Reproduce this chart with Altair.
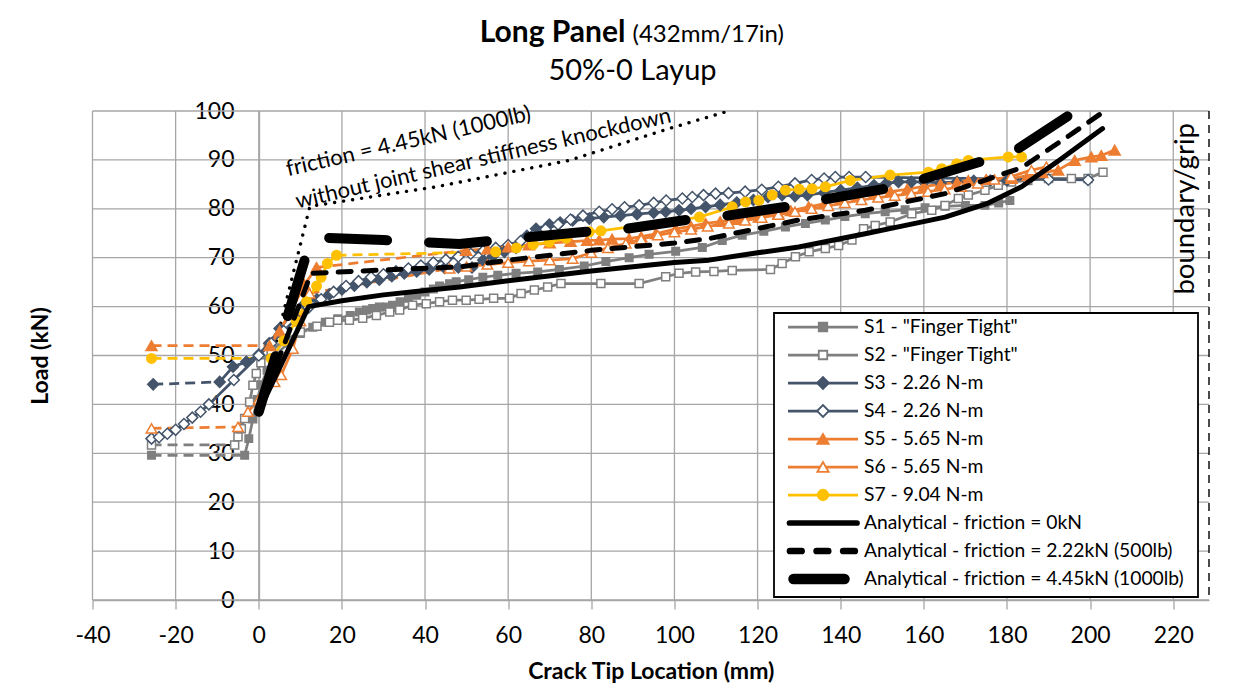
import altair as alt
import pandas as pd

FONT = "Lato"
GRID = "#A6A6A6"

# ---------------- text ----------------
TITLE_MAIN = "Long Panel"
TITLE_DIM = "(432mm/17in)"
TITLE_SUB = "50%-0 Layup"
X_TITLE = "Crack Tip Location (mm)"
Y_TITLE = "Load (kN)"

# ---------------- axes ----------------
X_TICKS = [-40, -20, 0, 20, 40, 60, 80, 100, 120, 140, 160, 180, 200, 220]
Y_TICKS = [0, 10, 20, 30, 40, 50, 60, 70, 80, 90, 100]
X_DOMAIN = [-40, 228.6]
Y_DOMAIN = [0, 100]

# ---------------- series names / colours ----------------
SERIES_NAMES = ['S1 - "Finger Tight"', 'S2 - "Finger Tight"', 'S3 - 2.26 N-m', 'S4 - 2.26 N-m',
                'S5 - 5.65 N-m', 'S6 - 5.65 N-m', 'S7 - 9.04 N-m']
ANALYTICAL_NAMES = ['Analytical - friction = 0kN', 'Analytical - friction = 2.22kN (500lb)',
                    'Analytical - friction = 4.45kN (1000lb)']
SERIES_COLORS = ['#7F7F7F', '#7F7F7F', '#44546A', '#44546A', '#ED7D31', '#ED7D31', '#FFC000']
ANALYTICAL_COLORS = ['#000000', '#000000', '#000000']

# ---------------- experimental data (x in mm, load in kN) ----------------
S1_X = [-25.8, -3.4, -2.4, -1.4, -0.4, 0.6, 2, 4, 7, 10, 13, 16, 19, 22, 24.2, 25.9, 27.4, 29, 30.7, 32.2,
        34, 36, 38, 40, 42, 43.5, 45.9, 47.5, 50.5, 53.9, 57.5, 61.9, 67.1, 72.3, 78.3, 83.5, 89.1, 93.9,
        100.3, 106.7, 111.5, 116.3, 121.5, 126.7, 131.5, 136.3, 141, 145.9, 150.7, 155.5, 160.3, 165.1,
        170, 174.7, 178, 180.7]
S1_Y = [29.6, 29.6, 33, 37, 41, 44, 47, 50, 52.5, 54.5, 55.8, 56.8, 57.5, 58.2, 58.9, 59.3, 59.6, 59.9, 59.9,
        60.3, 61, 61.7, 62.3, 63, 63.6, 64.2, 64.7, 65.1, 65.5, 66, 66.4, 66.8, 67.1, 67.6, 68.3, 69.2, 70,
        70.7, 71.3, 72.1, 73.5, 74.6, 75.4, 76.3, 77, 77.7, 78.4, 79, 79.4, 79.8, 80.2, 80.5, 80.7, 80.7,
        81.2, 81.7]
S1_DASHED = [0]

S2_X = [-25.8, -5.8, -5, -4.2, -3.4, -2.2, -1.4, -0.6, 0.5, 3, 6, 10, 14, 17, 19, 21.8, 25, 28.3, 31.5,
        33.9, 37, 40.3, 43.5, 46.6, 49.9, 53, 56.5, 60.3, 63.1, 66.3, 69.5, 72.7, 82.3, 91.5, 97.9, 101.1,
        105.1, 109.5, 113.9, 123.1, 125.9, 129.1, 132.4, 136.3, 139.5, 142.7, 145.5, 148.3, 151.9, 157.1,
        161.9, 165.1, 168.3, 170.7, 174.7, 177.9, 181.1, 185, 190, 195.5, 199.5, 203.1]
S2_Y = [31.7, 31.7, 33.4, 35, 37.1, 40.5, 43.9, 46.3, 48.5, 51, 53, 54.8, 56, 56.8, 57.2, 57.2, 57.6, 58.2,
        58.9, 59.3, 60.3, 60.6, 61, 61.3, 61.3, 61.5, 61.7, 61.7, 62.7, 63.4, 64, 64.7, 64.7, 64.7, 66.1,
        66.8, 67.1, 67.2, 67.4, 67.6, 68.8, 70.2, 71.2, 71.9, 72.5, 73.6, 75.9, 76.6, 77.3, 79, 79.7, 80.7,
        82.1, 82.8, 83.8, 84.8, 85.5, 85.8, 86.2, 86.2, 86.2, 87.5]
S2_DASHED = [0]

S3_X = [-25.4, -9.4, -6.2, -3, 0, 2.5, 5, 8, 11, 14, 17, 20, 23, 26, 29, 32, 35, 38, 41, 44.7, 48, 51.3,
        54, 56.3, 59.1, 61.9, 64.5, 66.7, 69.9, 72.5, 75.5, 79.5, 83, 87, 91, 95, 97.9, 101.1, 104, 107.5,
        111, 115, 119, 122.5, 125.9, 129, 132, 136, 140, 144, 148, 151, 153.9, 157, 160, 164, 168, 172,
        176, 180]
S3_Y = [44.1, 44.6, 47.7, 48.7, 50.2, 52.5, 55.5, 58.5, 60.5, 61.5, 62.5, 63.5, 64.3, 65, 65.5, 66.2, 66.8,
        67.2, 67.6, 67.9, 68, 68, 69.5, 70.3, 71.2, 72, 74.5, 75.9, 76.8, 77.2, 77.6, 78, 78.3, 78.6, 78.9,
        79.2, 79.4, 79.7, 80, 80.4, 80.8, 81.3, 81.8, 82.4, 82.8, 82.6, 82.8, 83.3, 83.8, 84.3, 84.8, 85.2,
        85.5, 85.5, 85.5, 85.3, 85.5, 85.7, 85.8, 85.8]
S3_DASHED = [0]

S4_X = [-25.8, -24, -22, -20, -18, -16, -14, -12, -6, 0, 3, 6, 9, 12, 15, 18, 21, 24, 27, 30, 33, 36, 39,
        42, 45, 48, 51, 54, 57, 60, 63, 66, 69, 72, 75, 78, 81.9, 85, 88, 91.5, 95, 98, 101.9, 104.3, 107,
        109.9, 113, 117, 121, 125, 129, 133, 136, 138.7, 142, 146, 190, 199.5]
S4_Y = [33, 33.3, 34, 34.8, 36, 37.3, 38.5, 40, 45, 50, 52.5, 55, 57.5, 59.8, 61.5, 63, 64.2, 65.2, 66,
        66.6, 67.2, 67.8, 68.4, 69, 69.6, 70.2, 70.8, 71.4, 72, 72.6, 73.4, 74.5, 75.8, 76.8, 77.8, 78.6,
        79.4, 79.9, 80.3, 80.7, 81.2, 81.7, 82.1, 82.4, 82.8, 83.1, 83.2, 83.5, 83.9, 84.5, 85.2, 85.9,
        86.2, 86.5, 86.5, 86.5, 86, 85.9]
S4_DASHED = []

S5_X = [-25.8, 2.6, 5, 8, 11, 13.9, 49.9, 55, 60, 65, 70, 75, 79, 81.9, 85, 89.1, 92, 95.5, 100.3, 104,
        107.5, 111, 115, 120.3, 125, 128, 132.3, 136, 140, 144, 148, 152, 156, 160, 164, 168, 170.7, 175,
        181.1, 185, 188.5, 192.3, 196.3, 200.3, 202.7, 205.9]
S5_Y = [52, 52, 55, 59.5, 64.5, 68, 71.5, 71.8, 72.2, 72.6, 73, 73.3, 73.5, 73.6, 73.8, 73.9, 74.3, 74.9,
        75.9, 76.4, 77, 77.4, 77.8, 78.3, 79, 79.6, 80.4, 81, 81.8, 82.4, 83, 83.5, 84, 84.6, 85, 85.4,
        85.8, 86, 86.2, 86.8, 87.4, 87.9, 89.9, 90.6, 90.9, 92]
S5_DASHED = [0, 5]

S6_X = [-25.8, -5, -2.6, 0, 3.8, 5.4, 8.2, 10, 12.2, 45.9, 50, 55, 60, 65, 70, 75.5, 80, 84, 88.3, 92, 96,
        100, 104, 108, 113.1, 117, 121, 125, 129, 133, 137, 141, 145, 149, 153, 157, 161, 165, 169, 173,
        177, 181, 185.9, 189.5]
S6_Y = [35.1, 35.4, 38.5, 41, 44.6, 46, 51.4, 57, 62.7, 67.8, 68.2, 68.6, 69, 69.3, 69.5, 69.8, 71, 72,
        72.9, 73.8, 74.6, 75.2, 75.8, 76.4, 77, 77.6, 78.2, 78.8, 79.4, 80, 80.6, 81.2, 81.8, 82.3, 82.7,
        83.1, 83.5, 84, 84.5, 85.2, 86, 86.6, 87.9, 88.6]
S6_DASHED = [0, 8]

S7_X = [-25.8, 3, 6, 9, 11.5, 13.9, 15, 16.5, 18.7, 57, 62, 66, 69.9, 74, 79.5, 82.3, 106, 113.9, 117.1,
        120.3, 123.5, 126.7, 130, 133.1, 136.3, 142.3, 151.9, 161.1, 164.3, 167.9, 170.7, 180.3, 183.5]
S7_Y = [49.4, 49.4, 53, 57, 61, 64.2, 66, 68.8, 70.5, 71.2, 72, 72.7, 73.2, 74, 75.3, 75.5, 78.3, 80.4,
        81.4, 81.7, 82.8, 83.8, 84, 84.1, 84.5, 85.8, 86.9, 87.5, 88.2, 89.2, 89.9, 90.6, 90.6]
S7_DASHED = [0, 8]

# ---------------- analytical curves ----------------
A0_X = [0, 12, 20, 30, 40, 48.3, 60, 80, 100, 108.3, 120, 129.9, 145.9, 155, 165.1, 175, 183.5, 193, 203]
A0_Y = [38.5, 60, 61.2, 62.4, 63.3, 64, 65.3, 67.3, 69, 69.5, 71, 72.2, 74.9, 76.5, 78.3, 81, 84.5, 90.2, 96.4]
A1_X = [0, 12.6, 30, 48.3, 60, 80, 100, 108.3, 129.9, 145.9, 165.1, 183.5, 195, 204]
A1_Y = [38.5, 66.8, 67.5, 68.1, 69.5, 71.5, 73, 73.9, 77.7, 79.7, 83.1, 88.4, 95, 100.3]
A2_X = [0, 12.7, 30, 48.3, 53, 61, 78.7, 85.9, 102.7, 110.3, 126.7, 134.7, 150.7, 158.7, 174.7, 182.7, 196.5]
A2_Y = [38.5, 74.2, 73.6, 72.8, 73.2, 73.9, 75.3, 75.6, 77.7, 78.3, 80.4, 81.7, 84.1, 85.8, 89.9, 92.3, 100]
DOT_X = [0, 12.3, 42.7, 74.7, 98.7, 113]
DOT_Y = [38.5, 80.5, 84.5, 89.9, 96.4, 100]

# ---------------- annotations ----------------
NOTE_TEXT = ["friction = 4.45kN (1000lb)", "without joint shear stiffness knockdown"]
NOTE_X = [36.0, 54.0]
NOTE_Y = [93.8, 90.3]
BOUNDARY_X = [228.6]
BOUNDARY_TEXT = ["boundary/grip"]
BOUNDARY_TEXT_X = [223.0]
BOUNDARY_TEXT_Y = [80.0]

# =====================================================================
ALL_NAMES = SERIES_NAMES + ANALYTICAL_NAMES
ALL_COLORS = SERIES_COLORS + ANALYTICAL_COLORS

EXP = [
    (SERIES_NAMES[0], S1_X, S1_Y, S1_DASHED),
    (SERIES_NAMES[1], S2_X, S2_Y, S2_DASHED),
    (SERIES_NAMES[2], S3_X, S3_Y, S3_DASHED),
    (SERIES_NAMES[3], S4_X, S4_Y, S4_DASHED),
    (SERIES_NAMES[4], S5_X, S5_Y, S5_DASHED),
    (SERIES_NAMES[5], S6_X, S6_Y, S6_DASHED),
    (SERIES_NAMES[6], S7_X, S7_Y, S7_DASHED),
]

line_rows = []
for name, xs, ys, dashed in EXP:
    assert len(xs) == len(ys), name
    prev = None
    piece = -1
    order = 0
    for i in range(len(xs) - 1):
        style = "dash" if i in dashed else "solid"
        if style != prev:
            piece += 1
            order = 0
            line_rows.append({"series": name, "piece": f"{name}|{piece}", "order": order,
                              "x": xs[i], "y": ys[i], "style": style})
            prev = style
        order += 1
        line_rows.append({"series": name, "piece": f"{name}|{piece}", "order": order,
                          "x": xs[i + 1], "y": ys[i + 1], "style": style})
lines_df = pd.DataFrame(line_rows)

xsc = alt.Scale(domain=X_DOMAIN, nice=False, zero=False)
ysc = alt.Scale(domain=Y_DOMAIN, nice=False, zero=False)
color_scale = alt.Scale(domain=ALL_NAMES, range=ALL_COLORS)

x_axis = alt.Axis(values=X_TICKS, grid=False, domainColor=GRID, domainWidth=1.3, tickColor=GRID,
                  tickWidth=1.3, tickSize=9, labelFont=FONT, labelFontSize=23, labelColor="black",
                  labelPadding=15, labelFlush=False, labelOverlap=False, labelExpr="'' + datum.value",
                  title=X_TITLE, titleFont=FONT, titleFontSize=23, titleFontWeight="bold",
                  titleColor="black", titlePadding=13)
y_axis = alt.Axis(values=Y_TICKS, grid=False, offset=-166.5, domainColor=GRID, domainWidth=1.3,
                  ticks=False, labelFont=FONT, labelFontSize=23, labelColor="black", labelPadding=25,
                  labelFlush=False, labelOverlap=False, labelExpr="'' + datum.value", title=Y_TITLE,
                  titleFont=FONT, titleFontSize=23, titleFontWeight="bold", titleColor="black",
                  titleX=-219, titleY=244.5, titleAngle=270, titleAlign="center", titleBaseline="middle")


def X(field="x"):
    return alt.X(f"{field}:Q", scale=xsc, axis=x_axis)


def Y(field="y"):
    return alt.Y(f"{field}:Q", scale=ysc, axis=y_axis)


# gridlines (drawn from the tick arrays)
grid_x = alt.Chart(pd.DataFrame({"x": X_TICKS})).mark_rule(color=GRID, strokeWidth=1.3).encode(x=X("x"))
grid_y = alt.Chart(pd.DataFrame({"y": Y_TICKS})).mark_rule(color=GRID, strokeWidth=1.3).encode(y=Y("y"))

boundary = alt.Chart(pd.DataFrame({"x": BOUNDARY_X})).mark_rule(
    color="black", strokeWidth=1.4, strokeDash=[8, 6]).encode(x=X("x"))
boundary_text = alt.Chart(pd.DataFrame({"t": BOUNDARY_TEXT, "x": BOUNDARY_TEXT_X, "y": BOUNDARY_TEXT_Y})
                          ).mark_text(font=FONT, fontSize=27.5, angle=270, align="center", baseline="middle",
                                      color="black").encode(x=X("x"), y=Y("y"), text="t:N")
notes = alt.Chart(pd.DataFrame({"t": NOTE_TEXT, "x": NOTE_X, "y": NOTE_Y})).mark_text(
    font=FONT, fontSize=22, angle=347, align="center", baseline="middle", color="black").encode(
    x=X("x"), y=Y("y"), text="t:N")

dotted = alt.Chart(pd.DataFrame({"x": DOT_X, "y": DOT_Y})).mark_line(
    color="black", strokeWidth=3.4, strokeDash=[0.1, 9], strokeCap="round", clip=True).encode(
    x=X(), y=Y())

solid_lines = alt.Chart(lines_df).transform_filter(alt.datum.style == "solid").mark_line(
    strokeWidth=2.75, strokeJoin="round").encode(
    x=X(), y=Y(), color=alt.Color("series:N", scale=color_scale, legend=None),
    detail="piece:N", order="order:Q")
dashed_lines = alt.Chart(lines_df).transform_filter(alt.datum.style == "dash").mark_line(
    strokeWidth=2.75, strokeDash=[10, 6]).encode(
    x=X(), y=Y(), color=alt.Color("series:N", scale=color_scale, legend=None),
    detail="piece:N", order="order:Q")

# marker style per experimental series: (shape, filled, plot size, legend size)
MARKERS = [("square", True, 56, 72), ("square", False, 64, 72), ("diamond", True, 121, 140),
           ("diamond", False, 121, 140), ("triangle-up", True, 121, 130), ("triangle-up", False, 110, 130),
           ("circle", True, 90, 110)]
point_layers = []
for (name, xs, ys, _), col, (shape, filled, size, _ls) in zip(EXP, SERIES_COLORS, MARKERS):
    point_layers.append(
        alt.Chart(pd.DataFrame({"x": xs, "y": ys})).mark_point(
            shape=shape, size=size, filled=True, fill=col if filled else "#FFFFFF", stroke=col,
            strokeWidth=1.5, opacity=1).encode(x=X(), y=Y()))

a0 = alt.Chart(pd.DataFrame({"x": A0_X, "y": A0_Y})).mark_line(
    color="black", strokeWidth=5, strokeCap="round", strokeJoin="round", clip=True).encode(x=X(), y=Y())
a1 = alt.Chart(pd.DataFrame({"x": A1_X, "y": A1_Y})).mark_line(
    color="black", strokeWidth=5, strokeDash=[13, 12], strokeCap="round", strokeJoin="round",
    clip=True).encode(x=X(), y=Y())
a2 = alt.Chart(pd.DataFrame({"x": A2_X, "y": A2_Y})).mark_line(
    color="black", strokeWidth=10, strokeDash=[58, 42], strokeCap="round", strokeJoin="round",
    clip=True).encode(x=X(), y=Y())

# ---------------- legend (built from the series names) ----------------
LEG_LEFT, LEG_RIGHT, LEG_TOP, LEG_BOTTOM = 681.5, 1105.5, 202, 486
ROW0, ROW_STEP = 216, 28
legend_df = pd.DataFrame({"name": ALL_NAMES, "row": list(range(len(ALL_NAMES)))})
ly = alt.Y("ly:Q", scale=None)


def leg(rows):
    return alt.Chart(legend_df).transform_filter(
        alt.FieldOneOfPredicate(field="row", oneOf=rows)).transform_calculate(
        ly=f"{ROW0} + {ROW_STEP} * datum.row")


leg_box = alt.Chart(pd.DataFrame({"a": [0]})).mark_rect(
    fill="white", stroke="black", strokeWidth=1.8).encode(
    x=alt.value(LEG_LEFT), x2=alt.value(LEG_RIGHT), y=alt.value(LEG_TOP), y2=alt.value(LEG_BOTTOM))
leg_lines = leg(list(range(7))).mark_rule(strokeWidth=2.75).encode(
    x=alt.value(695.5), x2=alt.value(765.5), y=ly,
    color=alt.Color("name:N", scale=color_scale, legend=None))
leg_marks = []
for i, (col, (shape, filled, _s, lsize)) in enumerate(zip(SERIES_COLORS, MARKERS)):
    leg_marks.append(leg([i]).mark_point(
        shape=shape, size=lsize, filled=True, fill=col if filled else "#FFFFFF", stroke=col,
        strokeWidth=1.8, opacity=1).encode(x=alt.value(730.5), y=ly))
leg_a0 = leg([7]).mark_rule(color="black", strokeWidth=5.7, strokeCap="round").encode(
    x=alt.value(697), x2=alt.value(764.5), y=ly)
leg_a1 = leg([8]).mark_rule(color="black", strokeWidth=6.7, strokeCap="round", strokeDash=[11.6, 15]).encode(
    x=alt.value(697.5), x2=alt.value(764), y=ly)
leg_a2 = leg([9]).mark_rule(color="black", strokeWidth=10.5, strokeCap="round").encode(
    x=alt.value(701), x2=alt.value(752), y=ly)
leg_text = leg(list(range(10))).mark_text(
    font=FONT, fontSize=19.3, align="left", baseline="middle", color="black").encode(
    x=alt.value(771.5), y=ly, text="name:N")

# ---------------- title ----------------
t1 = alt.Chart(pd.DataFrame({"t": [TITLE_MAIN]})).mark_text(
    font=FONT, fontSize=30, fontWeight="bold", align="right", baseline="alphabetic", color="black").encode(
    x=alt.value(533), y=alt.value(-69), text="t:N")
t2 = alt.Chart(pd.DataFrame({"t": [TITLE_DIM]})).mark_text(
    font=FONT, fontSize=24, align="left", baseline="alphabetic", color="black").encode(
    x=alt.value(540), y=alt.value(-69), text="t:N")
t3 = alt.Chart(pd.DataFrame({"t": [TITLE_SUB]})).mark_text(
    font=FONT, fontSize=29, align="center", baseline="alphabetic", color="black").encode(
    x=alt.value(540), y=alt.value(-31), text="t:N")

chart = alt.layer(
    grid_x, grid_y, boundary, boundary_text, notes, dotted, dashed_lines, solid_lines,
    *point_layers, a0, a1, a2,
    leg_box, leg_lines, *leg_marks, leg_a0, leg_a1, leg_a2, leg_text,
    t1, t2, t3
).properties(
    width=1116.5, height=489,
    padding={"left": 84.5, "top": 103, "right": 36, "bottom": 86},
    autosize=alt.AutoSizeParams(type="none"),
    background="white",
).configure_view(strokeWidth=0)

chart.save("out.html", embed_options={"renderer": "svg", "actions": False})
